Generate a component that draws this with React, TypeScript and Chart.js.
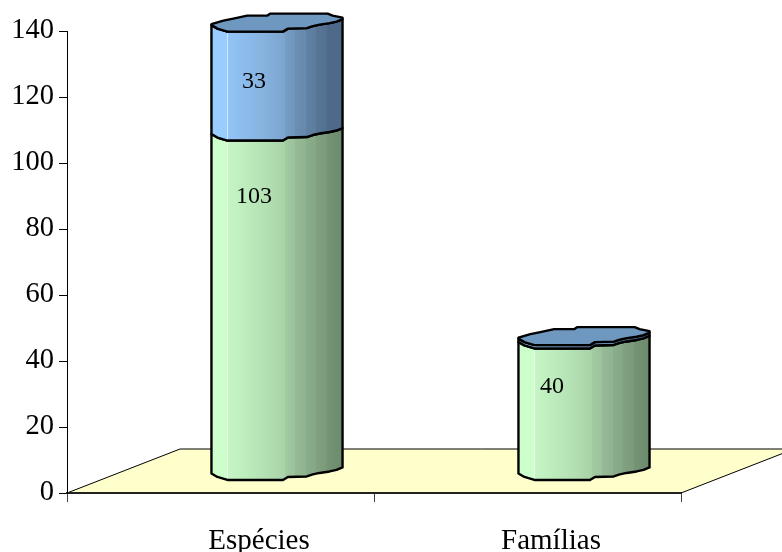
import { useEffect, useRef } from "react";
import { Chart, registerables } from "chart.js";

Chart.register(...registerables);

const categories = ["Espécies", "Famílias"];
const lowerValues = [103, 40];
const upperValues = [33, 1];
const lowerLabels = ["103", "40"];
const upperLabels = ["33", ""];

const SERIF = '"Liberation Serif", "Times New Roman", serif';

// Oblique floor depth, in pixels.
const DEPTH_X = 113;
const DEPTH_Y = 44;

// Per-category nudges for the hand-placed captions.
const CATEGORY_SHIFT = [38.5, 23.5];
const VALUE_SHIFT_X = [-23, -32];
const LOWER_SHIFT_Y = [65, 47];
const UPPER_SHIFT_Y = [59, 0];

type Stop = [number, string];

const GREEN_STOPS: Stop[] = [
  [0, "#ccffcc"], [0.115, "#ccffcc"], [0.116, "#c6f6c6"], [0.4, "#b5e2b5"], [0.56, "#a8d2a8"],
  [0.561, "#a2cba2"], [0.64, "#9bc29b"], [0.641, "#95ba95"], [0.72, "#90b490"], [0.721, "#8aad8a"],
  [0.8, "#85a785"], [0.801, "#80a080"], [0.88, "#7b9a7b"], [0.881, "#759375"], [1, "#6c8b6c"],
];
const BLUE_STOPS: Stop[] = [
  [0, "#99ccff"], [0.115, "#99ccff"], [0.116, "#93c5f8"], [0.4, "#86b2de"], [0.56, "#7ca5ce"],
  [0.561, "#769dc5"], [0.64, "#7096bc"], [0.641, "#6a8fb3"], [0.72, "#6689ac"], [0.721, "#6082a4"],
  [0.8, "#5c7c9c"], [0.801, "#577595"], [0.88, "#537090"], [0.881, "#4e698a"], [1, "#4d6888"],
];
const CAP_FILL = "#6f98c0";

// Rippled rim of the cylinder, relative to the disc centre, for a half-width of 66.
const RIM_FRONT: [number, number][] = [
  [66, -3.5], [60, -1], [53, 0.5], [43, 2], [36, 3.5], [30, 5.5], [11, 6], [6, 9], [-50, 9], [-55, 7.5], [-60, 6], [-66, 2.5],
];
const RIM_BACK: [number, number][] = [
  [-66, 1.5], [-54, -2], [-44, -4], [-30, -7], [-10, -7], [-7, -9], [51, -9], [56, -7], [66, -5],
];

type Pt = [number, number];
const place = (rim: [number, number][], cx: number, cy: number, halfW: number): Pt[] =>
  rim.map(([u, v]) => [cx + (u * halfW) / 66, cy + v]);

function through(ctx: CanvasRenderingContext2D, pts: Pt[]) {
  for (let i = 1; i < pts.length; i++) ctx.lineTo(pts[i][0], pts[i][1]);
}

function drawSegment(ctx: CanvasRenderingContext2D, cx: number, topY: number, baseY: number, halfW: number, stops: Stop[]) {
  const grad = ctx.createLinearGradient(cx - halfW, 0, cx + halfW, 0);
  stops.forEach(([o, c]) => grad.addColorStop(o, c));

  const base = place(RIM_FRONT, cx, baseY, halfW);
  const top = place(RIM_FRONT, cx, topY, halfW).reverse();
  const outline = () => {
    ctx.beginPath();
    ctx.moveTo(base[0][0], base[0][1]);
    through(ctx, base);
    ctx.lineTo(top[0][0], top[0][1]);
    through(ctx, top);
    ctx.closePath();
  };
  outline();
  ctx.fillStyle = grad;
  ctx.fill();

  // Thin highlight seam near the left of the body.
  const seamX = Math.round(cx - halfW + halfW * 2 * 0.115) + 0.5;
  ctx.beginPath();
  ctx.moveTo(seamX, topY + 10);
  ctx.lineTo(seamX, baseY + 8);
  ctx.strokeStyle = "rgba(255,255,255,0.6)";
  ctx.lineWidth = 1;
  ctx.stroke();

  outline();
  ctx.strokeStyle = "#000";
  ctx.lineWidth = 2.4;
  ctx.lineJoin = "round";
  ctx.stroke();
}

function drawCap(ctx: CanvasRenderingContext2D, cx: number, topY: number, halfW: number, fill: string) {
  const front = place(RIM_FRONT, cx, topY, halfW);
  const back = place(RIM_BACK, cx, topY, halfW);
  ctx.beginPath();
  ctx.moveTo(back[0][0], back[0][1]);
  through(ctx, back);
  ctx.lineTo(front[0][0], front[0][1]);
  through(ctx, front);
  ctx.closePath();
  ctx.fillStyle = fill;
  ctx.fill();
  ctx.strokeStyle = "#000";
  ctx.lineWidth = 2.4;
  ctx.lineJoin = "round";
  ctx.stroke();
}

const floorPlugin = {
  id: "floor",
  beforeDraw(chart: Chart) {
    const { ctx, chartArea: a } = chart;
    ctx.save();
    ctx.beginPath();
    ctx.moveTo(a.left, a.bottom);
    ctx.lineTo(a.left + DEPTH_X, a.bottom - DEPTH_Y);
    ctx.lineTo(a.right + DEPTH_X, a.bottom - DEPTH_Y);
    ctx.lineTo(a.right, a.bottom);
    ctx.closePath();
    ctx.fillStyle = "#ffffcc";
    ctx.fill();
    ctx.beginPath();
    ctx.moveTo(a.left, a.bottom);
    ctx.lineTo(a.left + DEPTH_X, a.bottom - DEPTH_Y);
    ctx.lineTo(a.right + DEPTH_X, a.bottom - DEPTH_Y);
    ctx.lineTo(a.right, a.bottom);
    ctx.strokeStyle = "#000";
    ctx.lineWidth = 1;
    ctx.stroke();
    ctx.restore();
  },
};

const cylinderPlugin = {
  id: "cylinders",
  afterDatasetsDraw(chart: Chart) {
    const { ctx } = chart;
    const lower = chart.getDatasetMeta(0).data as any[];
    const upper = chart.getDatasetMeta(1).data as any[];
    const ox = DEPTH_X / 2;
    const oy = DEPTH_Y * 0.49;
    ctx.save();
    lower.forEach((bar, i) => {
      const top = upper[i];
      const cx = bar.x + ox;
      const halfW = bar.width / 2;
      drawSegment(ctx, cx, bar.y - oy, bar.base - oy, halfW, GREEN_STOPS);
      drawSegment(ctx, cx, top.y - oy, top.base - oy, halfW, BLUE_STOPS);
      drawCap(ctx, cx, top.y - oy, halfW, CAP_FILL);
    });

    ctx.fillStyle = "#000";
    ctx.font = `24px ${SERIF}`;
    ctx.textAlign = "center";
    ctx.textBaseline = "middle";
    lower.forEach((bar, i) => {
      const top = upper[i];
      const lx = bar.x + ox + VALUE_SHIFT_X[i];
      ctx.fillText(lowerLabels[i], lx, bar.y - oy + LOWER_SHIFT_Y[i]);
      if (upperLabels[i]) ctx.fillText(upperLabels[i], lx, top.y - oy + UPPER_SHIFT_Y[i]);
    });

    // Category captions sit under the axis, each with its own nudge.
    const xs = chart.scales.x;
    ctx.font = `29px ${SERIF}`;
    ctx.textBaseline = "alphabetic";
    categories.forEach((name, i) => {
      ctx.fillText(name, xs.getPixelForTick(i) + CATEGORY_SHIFT[i], 549);
    });
    ctx.restore();
  },
};

export default function App() {
  const ref = useRef<HTMLCanvasElement>(null);
  useEffect(() => {
    if (!ref.current) return;
    const chart = new Chart(ref.current, {
      type: "bar",
      data: {
        labels: categories,
        datasets: [
          { label: "Base", data: lowerValues, backgroundColor: "transparent", borderWidth: 0 },
          { label: "Topo", data: upperValues, backgroundColor: "transparent", borderWidth: 0 },
        ],
      },
      options: {
        animation: false,
        responsive: false,
        layout: { padding: { top: 31, right: 101, left: 0, bottom: 0 } },
        plugins: { legend: { display: false }, tooltip: { enabled: false } },
        datasets: { bar: { categoryPercentage: 1, barPercentage: 0.427 } },
        scales: {
          x: {
            stacked: true,
            afterFit: (s: any) => { s.height = 59; },
            border: { color: "#222", width: 2 },
            grid: { drawOnChartArea: false, offset: true, tickLength: 9, color: "#444", tickWidth: 1 },
            ticks: { display: false },
          },
          y: {
            stacked: true,
            min: 0,
            max: 140,
            afterFit: (s: any) => { s.width = 67; },
            border: { color: "#000", width: 1 },
            grid: { drawOnChartArea: false, tickLength: 8, color: "#000" },
            ticks: { stepSize: 20, color: "#000", font: { family: SERIF, size: 28.5 }, padding: 5 },
          },
        },
      },
      plugins: [floorPlugin, cylinderPlugin],
    } as any);
    return () => chart.destroy();
  }, []);
  return (
    <canvas
      ref={ref}
      width={782}
      height={552}
      style={{ position: "absolute", left: 0, top: 0, display: "block" }}
    />
  );
}
